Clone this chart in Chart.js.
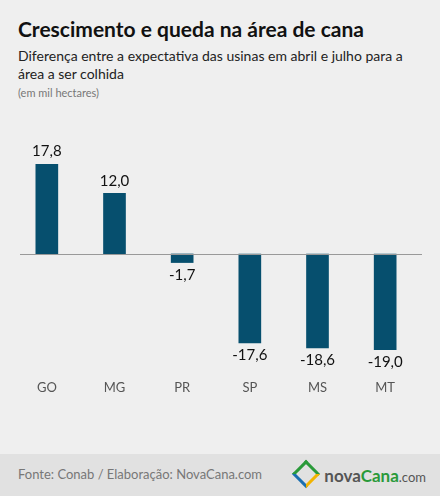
<!DOCTYPE html>
<html><head><meta charset="utf-8">
<script src="https://cdn.jsdelivr.net/npm/chart.js@4"></script>
<style>
body{margin:0;width:440px;height:496px;background:#efefef;font-family:Lato,"Open Sans",sans-serif;position:relative;overflow:hidden}
#t{position:absolute;left:18px;top:16px;font-size:21px;font-weight:bold;color:#111}
#s{position:absolute;left:18px;top:47px;font-size:14px;line-height:18px;color:#222;width:395px}
#u{position:absolute;left:18px;top:86px;font-size:11px;color:#777}
#f{position:absolute;left:0;bottom:0;width:440px;height:42px;background:#e1e1e1}
#ft{position:absolute;left:18px;top:12px;font-size:13px;color:#777}
#lg{position:absolute;right:14px;top:10px;font-size:17px;color:#555;font-weight:bold}
canvas{position:absolute;left:0;top:0}
</style></head><body>
<div id="t">Crescimento e queda na área de cana</div>
<div id="s">Diferença entre a expectativa das usinas em abril e julho para a área a ser colhida</div>
<div id="u">(em mil hectares)</div>
<div style="position:absolute;left:0;top:0;width:440px;height:454px"><canvas id="c"></canvas></div>
<div id="f"><div id="ft">Fonte: Conab / Elaboração: NovaCana.com</div>
<div id="lg"><span style="display:inline-block;width:14px;height:14px;transform:rotate(45deg);border:3px solid #2a9a3a;border-right-color:#f2b400;border-bottom-color:#1a6fb0;margin-right:8px;vertical-align:-2px"></span>nova<span style="color:#2a9a3a">Cana</span><span style="font-weight:normal;font-size:13px">.com</span></div></div>
<script>
const categories=["GO","MG","PR","SP","MS","MT"];
const values=[17.8,12.0,-1.7,-17.6,-18.6,-19.0];
const labels=["17,8","12,0","-1,7","-17,6","-18,6","-19,0"];
const plug={id:'p',afterDatasetsDraw(ch){const c=ch.ctx,y=ch.scales.y,x=ch.scales.x,a=ch.chartArea;
c.save();c.strokeStyle='#999';c.lineWidth=1;c.beginPath();c.moveTo(20,Math.round(y.getPixelForValue(0))+0.5);c.lineTo(422,Math.round(y.getPixelForValue(0))+0.5);c.stroke();
c.textAlign='center';c.font='15px Lato';c.fillStyle='#111';
values.forEach((v,i)=>{const px=x.getPixelForValue(i),py=y.getPixelForValue(v);
c.textBaseline='bottom';c.fillText(labels[i],px,v>=0?py-5:py+20);
});
c.font='13px Lato';c.fillStyle='#555';c.textBaseline='middle';
categories.forEach((k,i)=>c.fillText(k,x.getPixelForValue(i),a.bottom+38));c.restore();}};
new Chart(document.getElementById('c'),{type:'bar',data:{labels:categories,datasets:[{data:values,backgroundColor:'#064f6e',barThickness:22}]},
options:{responsive:true,maintainAspectRatio:false,animation:false,layout:{padding:{top:164,bottom:104,left:13,right:21}},
plugins:{legend:{display:false},tooltip:{enabled:false}},
scales:{x:{display:false},y:{display:false,min:-19,max:17.8}}},plugins:[plug]});
</script></body></html>
